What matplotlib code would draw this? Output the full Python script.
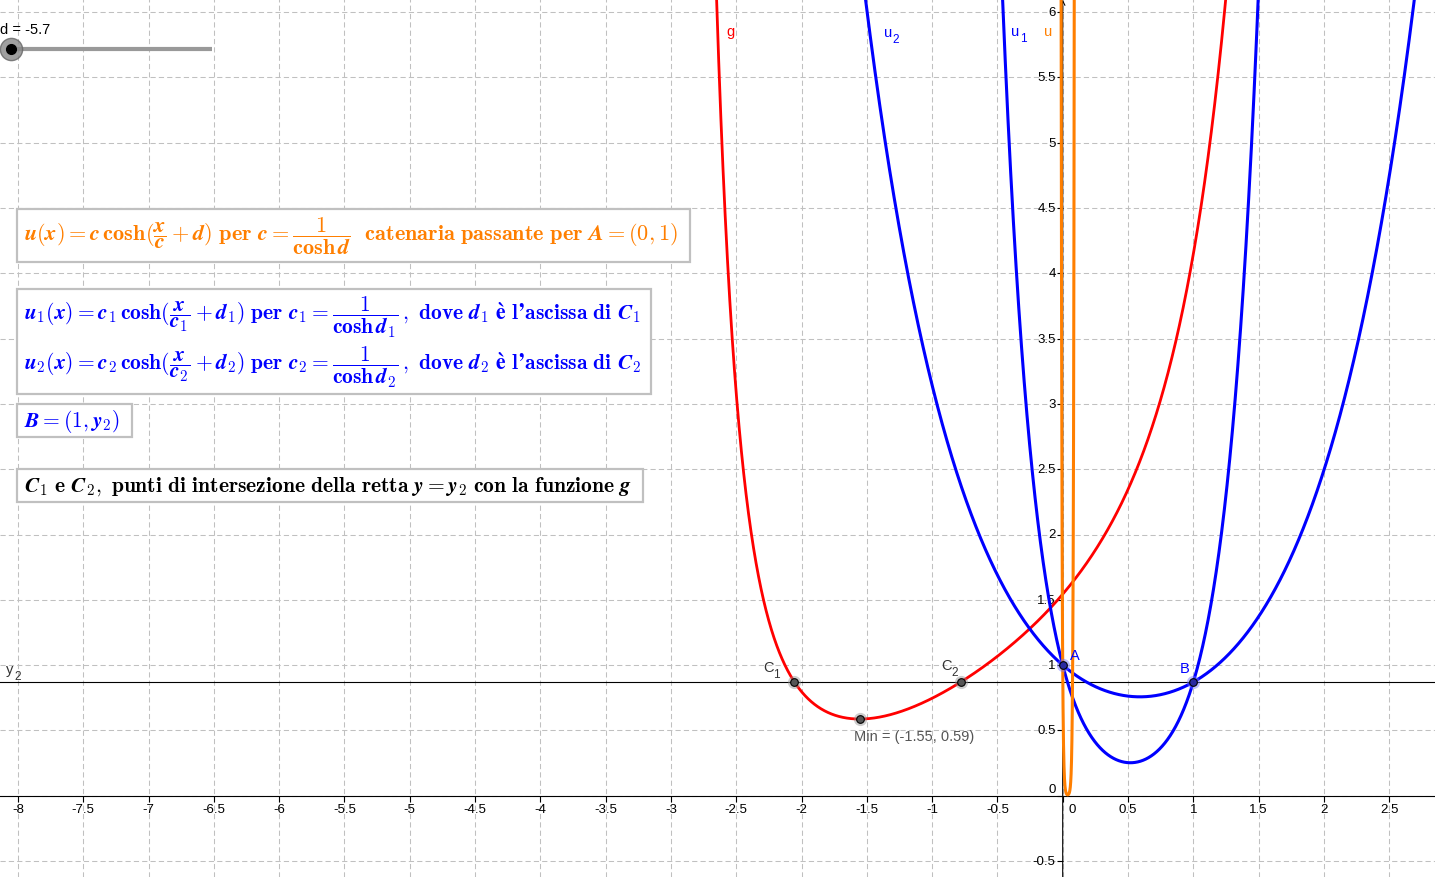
import numpy as np
import matplotlib.pyplot as plt
from matplotlib import markers
from matplotlib.patches import Rectangle
from matplotlib.mathtext import MathTextParser

plt.rcParams["font.family"] = ["Liberation Sans", "DejaVu Sans"]
plt.rcParams["mathtext.fontset"] = "cm"

W, H = 1435, 878
scale = 130.6            # pixels per unit
ox, oy = 1062.7, 796.7   # pixel position of the origin

# values
d = -5.7
y2 = 0.87
min_point = (-1.55, 0.59)
point_A = (0.0, 1.0)
x_tick_values = [-8, -7.5, -7, -6.5, -6, -5.5, -5, -4.5, -4, -3.5, -3, -2.5,
                 -2, -1.5, -1, -0.5, 0, 0.5, 1, 1.5, 2, 2.5]
y_tick_values = [-0.5, 0, 0.5, 1, 1.5, 2, 2.5, 3, 3.5, 4, 4.5, 5, 5.5, 6]

RED, BLUE, ORANGE = "#ff0000", "#0000ff", "#ff7f00"
GRID = "#c0c0c0"


def g(x):
    return np.cosh(np.cosh(x) + x) / np.cosh(x)


def catenary(x, dd):
    c = 1 / np.cosh(dd)
    return c * np.cosh(x / c + dd)


def solve_g(lo, hi, level):
    f_lo = g(lo) - level
    for _ in range(80):
        mid = (lo + hi) / 2
        f_mid = g(mid) - level
        if np.sign(f_mid) == np.sign(f_lo):
            lo, f_lo = mid, f_mid
        else:
            hi = mid
    return (lo + hi) / 2


d1 = solve_g(-3.0, min_point[0], y2)
d2 = solve_g(min_point[0], 0.0, y2)
point_B = (1.0, y2)
point_C1 = (d1, y2)
point_C2 = (d2, y2)


def to_px(x, y):
    return ox + x * scale, oy - y * scale


def ftext(px, py, s, **kw):
    fig.text(px / W, 1 - py / H, s, **kw)


# bold italic for variables if mathtext knows it
try:
    MathTextParser("agg").parse(r"$\mathbfit{x}$", dpi=72)
    V = r"\mathbfit"
except Exception:
    V = r"\mathit"

fig = plt.figure(figsize=(W / 100, H / 100), dpi=100)
ax = fig.add_axes([0, 0, 1, 1])
ax.set_xlim(-ox / scale, (W - ox) / scale)
ax.set_ylim(-(H - oy) / scale, oy / scale)
ax.axis("off")

# grid
for x in x_tick_values:
    ax.axvline(x, color=GRID, lw=0.75, ls=(0, (5, 3)), zorder=0)
for y in y_tick_values:
    ax.axhline(y, color=GRID, lw=0.75, ls=(0, (5, 3)), zorder=0)

# axes
ax.axhline(0, color="black", lw=0.8, zorder=2)
ylo, yhi = ax.get_ylim()
ax.annotate("", xy=(0, yhi - 0.005), xytext=(0, ylo),
            arrowprops=dict(arrowstyle="->", lw=0.8, color="black",
                            mutation_scale=8, shrinkA=0, shrinkB=0), zorder=2)
ax.plot(x_tick_values, np.zeros(len(x_tick_values)), ls="none",
        marker=markers.TICKDOWN, ms=4, mew=0.8, color="black", zorder=2)
ax.plot(np.zeros(len(y_tick_values)), y_tick_values, ls="none",
        marker=markers.TICKLEFT, ms=4, mew=0.8, color="black", zorder=2)

for x in x_tick_values:
    dx = 9 if x == 0 else 0
    ax.annotate(f"{x:g}", xy=(x, 0), xytext=(dx, -13), textcoords="offset pixels",
                ha="center", va="center", fontsize=9.5, zorder=3)
for y in y_tick_values:
    dy = 7 if y == 0 else 0
    ax.annotate(f"{y:g}", xy=(0, y), xytext=(-7, dy), textcoords="offset pixels",
                ha="right", va="center", fontsize=9.5, zorder=3)

# line y = y2
ax.axhline(y2, color="black", lw=0.8, zorder=3)

# curves
xs_g = np.linspace(-2.75, 1.35, 3000)
ax.plot(xs_g, g(xs_g), color=RED, lw=2.0, zorder=4)
xs_2 = np.linspace(-1.6, 3.0, 3000)
ax.plot(xs_2, catenary(xs_2, d2), color=BLUE, lw=2.2, zorder=4)
xs_1 = np.linspace(-0.6, 1.7, 3000)
ax.plot(xs_1, catenary(xs_1, d1), color=BLUE, lw=2.2, zorder=4)
xs_u = np.linspace(-0.02, 0.1, 20000)
ax.plot(xs_u, catenary(xs_u, d), color=ORANGE, lw=2.2, zorder=4)


def draw_point(p, face, halo):
    ax.plot(*p, "o", ms=9.5, color=halo, alpha=0.45, mew=0, zorder=6)
    ax.plot(*p, "o", ms=5.5, mfc=face, mec="black", mew=0.8, zorder=7)


for p in (point_C1, point_C2, min_point):
    draw_point(p, "#555555", "#909090")
for p in (point_A, point_B):
    draw_point(p, "#2a2aa0", "#7070ff")


def sub_label(px, py, main, sub, color, size=10.5):
    ftext(px, py, main, color=color, fontsize=size, ha="center", va="center", zorder=8)
    ftext(px + 8, py + 7, sub, color=color, fontsize=size - 2, ha="center",
          va="center", zorder=8)


# point labels
cx, cy = to_px(*point_C1)
sub_label(cx - 26, cy - 15, "C", "1", "#333333")
cx, cy = to_px(*point_C2)
sub_label(cx - 14, cy - 17, "C", "2", "#333333")
cx, cy = to_px(*point_A)
ftext(cx + 12, cy - 10, "A", color=BLUE, fontsize=10.5, ha="center", va="center")
cx, cy = to_px(*point_B)
ftext(cx - 9, cy - 14, "B", color=BLUE, fontsize=10.5, ha="center", va="center")
cx, cy = to_px(*min_point)
ftext(cx + 54, cy + 17, f"Min = ({min_point[0]:g}, {min_point[1]:g})",
      color="#555555", fontsize=10.5, ha="center", va="center")
cx, cy = to_px(0, y2)
sub_label(10, cy - 13, "y", "2", "#333333")

# curve labels
ftext(731, 32, "g", color=RED, fontsize=10.5, ha="center", va="center")
sub_label(888, 33, "u", "2", BLUE)
sub_label(1015, 32, "u", "1", BLUE)
ftext(1048, 32, "u", color=ORANGE, fontsize=10.5, ha="center", va="center")

# slider
ftext(0, 30, f"d = {d:g}", fontsize=10.5, ha="left", va="center")
ax.plot([11 / W, 212 / W], [1 - 50 / H] * 2, color="#999999", lw=3,
        solid_capstyle="butt", transform=fig.transFigure, zorder=8)
ax.plot([11 / W], [1 - 50 / H], "o", ms=16, color="#888888", alpha=0.8,
        mec="#666666", transform=fig.transFigure, zorder=9)
ax.plot([11 / W], [1 - 50 / H], "o", ms=7, color="black",
        transform=fig.transFigure, zorder=10)

# text boxes
s1 = (r"$\V{u}(\V{x}) = \V{c}\,\mathbf{cosh}(\dfrac{\V{x}}{\V{c}} + \V{d})\ \mathbf{per}\ "
      r"\V{c} = \dfrac{\mathbf{1}}{\mathbf{cosh}\,\V{d}}\ \ \mathbf{catenaria\ passante\ per}\ "
      r"\V{A} = (\mathbf{0}, \mathbf{1})$")
s2 = "\n".join(
    (r"$\V{u}_{\mathbf{%s}}(\V{x}) = \V{c}_{\mathbf{%s}}\,\mathbf{cosh}(\dfrac{\V{x}}"
     r"{\V{c}_{\mathbf{%s}}} + \V{d}_{\mathbf{%s}})\ \mathbf{per}\ \V{c}_{\mathbf{%s}} = "
     r"\dfrac{\mathbf{1}}{\mathbf{cosh}\,\V{d}_{\mathbf{%s}}}\,\mathbf{,\ dove}\ "
     r"\V{d}_{\mathbf{%s}}\ \mathbf{è\ l’ascissa\ di}\ \V{C}_{\mathbf{%s}}$") % ((k,) * 8)
    for k in ("1", "2"))
s3 = r"$\V{B} = (\mathbf{1}, \V{y}_{\mathbf{2}})$"
s4 = (r"$\V{C}_{\mathbf{1}}\ \mathbf{e}\ \V{C}_{\mathbf{2}},\ \mathbf{punti\ di\ intersezione"
      r"\ della\ retta}\ \V{y} = \V{y}_{\mathbf{2}}\ \mathbf{con\ la\ funzione}\ \V{g}$")

boxes = [
    (s1, ORANGE, (17, 210, 690, 263), 16),
    (s2, BLUE, (17, 290, 651, 395), 15.5),
    (s3, BLUE, (17, 405, 132, 438), 15.5),
    (s4, "black", (17, 470, 643, 503), 15.5),
]
for s, color, (x0, y0, x1, y1), size in boxes:
    ax.add_patch(Rectangle((x0 / W, 1 - y1 / H), (x1 - x0) / W, (y1 - y0) / H,
                           transform=fig.transFigure, fc="white", ec="#c0c0c0",
                           lw=1.6, zorder=11))
    ftext(x0 + 7, (y0 + y1) / 2, s.replace(r"\V", V), color=color, fontsize=size,
          ha="left", va="center", linespacing=1.2, zorder=12)

fig.savefig("out.png", dpi=100)
